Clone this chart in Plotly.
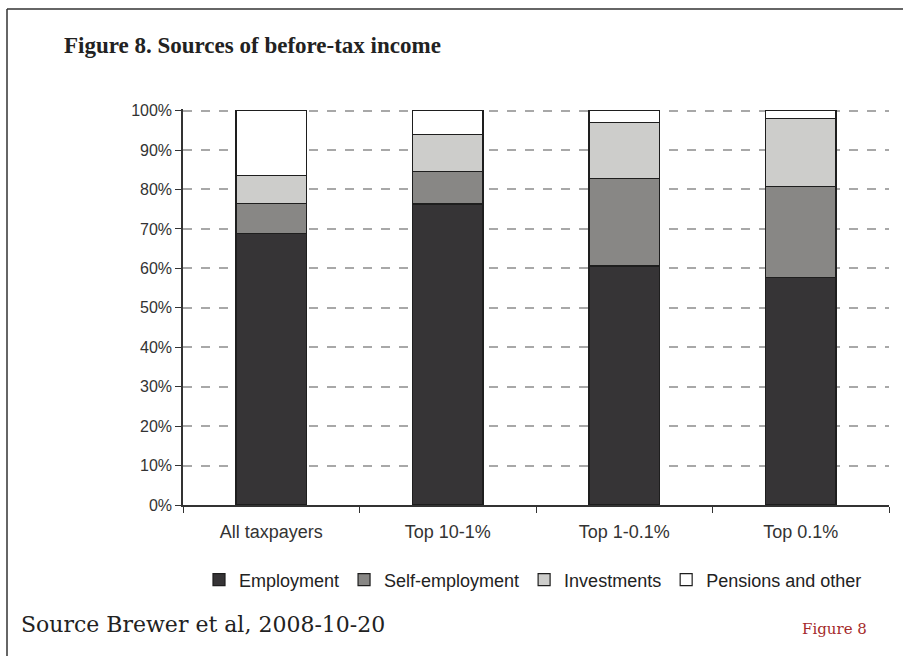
import plotly.graph_objects as go

categories = ["All taxpayers", "Top 10-1%", "Top 1-0.1%", "Top 0.1%"]
employment = [68.9, 76.3, 60.6, 57.6]
self_employment = [7.6, 8.3, 22.2, 23.2]
investments = [7.1, 9.3, 14.2, 17.2]
pensions_other = [16.4, 6.1, 3.0, 2.0]
series_names = ["Employment", "Self-employment", "Investments", "Pensions and other"]
series_colors = ["#363436", "#888785", "#cdcdcb", "#ffffff"]
y_ticks = list(range(0, 101, 10))
y_tick_labels = [f"{v}%" for v in y_ticks]

fig = go.Figure()
for name, vals, col in zip(series_names,
                           [employment, self_employment, investments, pensions_other],
                           series_colors):
    fig.add_trace(go.Bar(
        x=categories, y=vals, name=name,
        marker=dict(color=col, line=dict(color="#1e1e1e", width=1.2)),
        width=0.4,
    ))

L, R, T, B = 183, 14, 109, 151
W, H = 903, 656
pw, ph = W - L - R, H - T - B
YMAX = 100.4

def px_x(X):
    return (X - L) / pw

def px_y(Y):
    return (H - B - Y) / ph

fig.update_layout(
    width=W, height=H,
    barmode="stack",
    margin=dict(l=L, r=R, t=T, b=B, autoexpand=False),
    paper_bgcolor="white", plot_bgcolor="white",
    font=dict(family="Liberation Sans, Arial, sans-serif", color="#222222"),
    showlegend=True,
    legend=dict(orientation="h", x=px_x(533), xanchor="center", y=px_y(580), yanchor="middle",
                font=dict(size=18, color="#222222"), traceorder="normal",
                itemwidth=30, tracegroupgap=0),
    xaxis=dict(showline=True, linecolor="#333333", linewidth=1.5, ticks="outside",
               tickson="boundaries", ticklen=6, tickcolor="#333333",
               tickfont=dict(size=18, color="#333333"), showgrid=False,
               ticklabelstandoff=10, range=[-0.5, 3.5]),
    yaxis=dict(range=[0, YMAX], tickvals=y_ticks, ticktext=y_tick_labels,
               showline=True, linecolor="#333333", linewidth=1.5,
               ticks="outside", ticklen=6, tickcolor="#333333",
               tickfont=dict(size=16, color="#333333"),
               showgrid=True, gridcolor="#a8a8a8", gridwidth=1.5, griddash="dash",
               zeroline=False),
    annotations=[
        dict(text="<b>Figure 8. Sources of before-tax income</b>", xref="paper", yref="paper",
             x=px_x(62), y=px_y(45), xanchor="left", yanchor="middle", showarrow=False,
             font=dict(family="Liberation Serif, Times New Roman, serif", size=23, color="#222222")),
        dict(text="Source Brewer et al, 2008-10-20", xref="paper", yref="paper",
             x=px_x(19), y=px_y(624), xanchor="left", yanchor="middle", showarrow=False,
             font=dict(family="DejaVu Serif, serif", size=22, color="#222222")),
        dict(text="Figure 8", xref="paper", yref="paper",
             x=px_x(869), y=px_y(629), xanchor="right", yanchor="middle", showarrow=False,
             font=dict(family="DejaVu Serif, serif", size=15, color="#a52a2a")),
    ],
    shapes=[
        dict(type="line", xref="paper", yref="paper", x0=px_x(7), x1=px_x(910),
             y0=px_y(9), y1=px_y(9), line=dict(color="#333333", width=1.5)),
        dict(type="line", xref="paper", yref="paper", x0=px_x(7), x1=px_x(7),
             y0=px_y(9), y1=px_y(670), line=dict(color="#333333", width=1.5)),
    ],
)

fig.write_html("out.html", config={"displayModeBar": False},
               post_script="document.body.style.margin='0';")
